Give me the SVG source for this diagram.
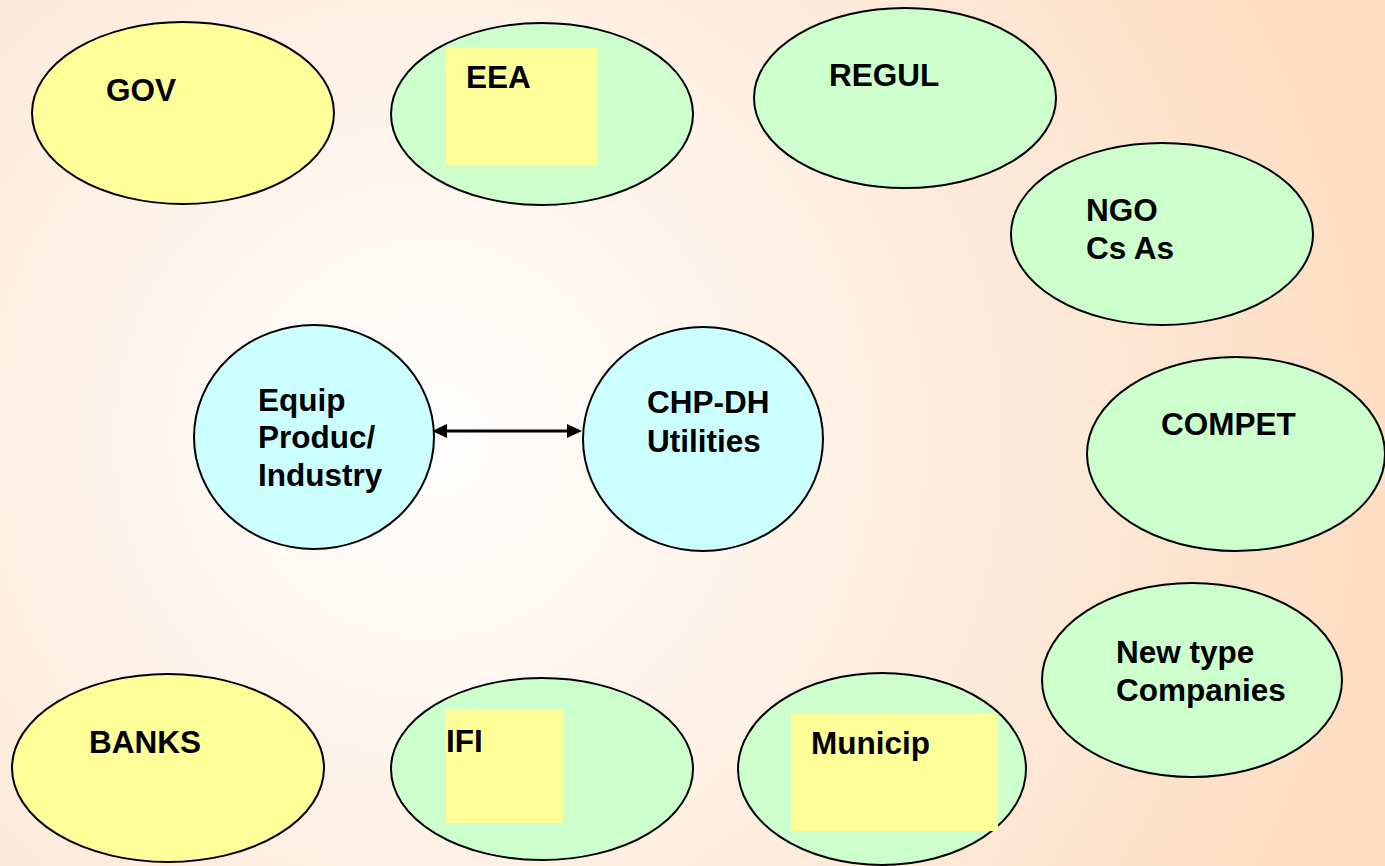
<svg xmlns="http://www.w3.org/2000/svg" width="1385" height="866" viewBox="0 0 1385 866">
<defs>
<radialGradient id="bg" gradientUnits="userSpaceOnUse" cx="430" cy="440" r="1000">
<stop offset="0" stop-color="#ffffff"/>
<stop offset="1" stop-color="#fddcc0"/>
</radialGradient>
</defs>
<style>
.y{fill:#ffff99;stroke:#000;stroke-width:2}
.g{fill:#ccffcc;stroke:#000;stroke-width:2}
.c{fill:#ccffff;stroke:#000;stroke-width:2}
.box{fill:#ffff99}
.head{fill:#000}
text{font-family:"Liberation Sans",Arial,sans-serif;font-weight:bold;font-size:31.5px;fill:#000}
</style>
<rect width="1385" height="866" fill="url(#bg)"/>
<g id="connectors">
<line x1="440" y1="431" x2="574" y2="431" stroke="#000" stroke-width="3"/>
<polygon class="head" points="432,431 447,424 447,438"/>
<polygon class="head" points="582,431 567,424 567,438"/>
</g>
<g id="gov"><ellipse class="y" cx="183" cy="113" rx="151" ry="91"/><text x="106" y="101">GOV</text></g>
<g id="eea"><ellipse class="g" cx="542" cy="114" rx="151" ry="91"/><rect class="box" x="446" y="47" width="151" height="118"/><text x="466" y="88">EEA</text></g>
<g id="regul"><ellipse class="g" cx="905" cy="98" rx="151" ry="90"/><text x="829" y="86">REGUL</text></g>
<g id="ngo"><ellipse class="g" cx="1162" cy="234" rx="151" ry="91"/><text x="1086" y="221">NGO</text><text x="1086" y="259">Cs As</text></g>
<g id="compet"><ellipse class="g" cx="1236" cy="454" rx="149" ry="97"/><text x="1161" y="435">COMPET</text></g>
<g id="newtype"><ellipse class="g" cx="1192" cy="680" rx="150" ry="97"/><text x="1116" y="663">New type</text><text x="1116" y="701">Companies</text></g>
<g id="municip"><ellipse class="g" cx="882" cy="769" rx="144" ry="96"/><rect class="box" x="791" y="713" width="207" height="118"/><text x="811" y="754">Municip</text></g>
<g id="ifi"><ellipse class="g" cx="542" cy="769" rx="151" ry="91"/><rect class="box" x="446" y="710" width="117" height="113"/><text x="446" y="752">IFI</text></g>
<g id="banks"><ellipse class="y" cx="168" cy="768" rx="156" ry="94"/><text x="89" y="753">BANKS</text></g>
<g id="equip"><ellipse class="c" cx="314" cy="437" rx="120" ry="112"/><text x="258" y="411">Equip</text><text x="258" y="448">Produc/</text><text x="258" y="486">Industry</text></g>
<g id="chp"><ellipse class="c" cx="703" cy="439" rx="120" ry="112"/><text x="647" y="413">CHP-DH</text><text x="647" y="452">Utilities</text></g>
</svg>
